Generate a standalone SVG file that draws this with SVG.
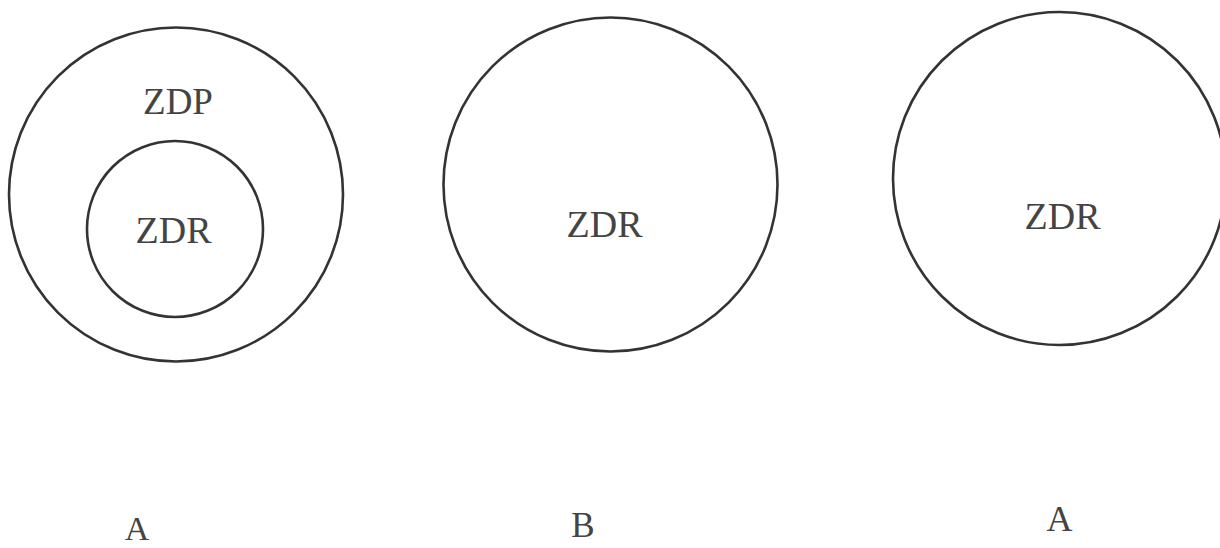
<svg xmlns="http://www.w3.org/2000/svg" width="1220" height="548" viewBox="0 0 1220 548">
<style>
.c{fill:none;stroke:#333;stroke-width:2.6}
.t{font-family:"Liberation Serif","Times New Roman",serif;fill:#444;text-anchor:middle}
</style>
<rect width="1220" height="548" fill="#fff"/>
<g id="A-left">
<circle class="c" cx="176" cy="194.5" r="167"/>
<circle class="c" cx="175" cy="229" r="88"/>
<text class="t" x="178" y="114" font-size="37">ZDP</text>
<text class="t" x="173.5" y="243" font-size="38">ZDR</text>
<text class="t" x="137" y="540" font-size="34">A</text>
</g>
<g id="B">
<circle class="c" cx="610.5" cy="184.5" r="167"/>
<text class="t" x="604.5" y="237" font-size="38">ZDR</text>
<text class="t" x="583" y="537" font-size="35">B</text>
</g>
<g id="A-right">
<circle class="c" cx="1059.5" cy="178.5" r="166.5"/>
<text class="t" x="1062.5" y="229" font-size="38">ZDR</text>
<text class="t" x="1059.5" y="531" font-size="36">A</text>
</g>
<g id="connectors"></g>
</svg>
